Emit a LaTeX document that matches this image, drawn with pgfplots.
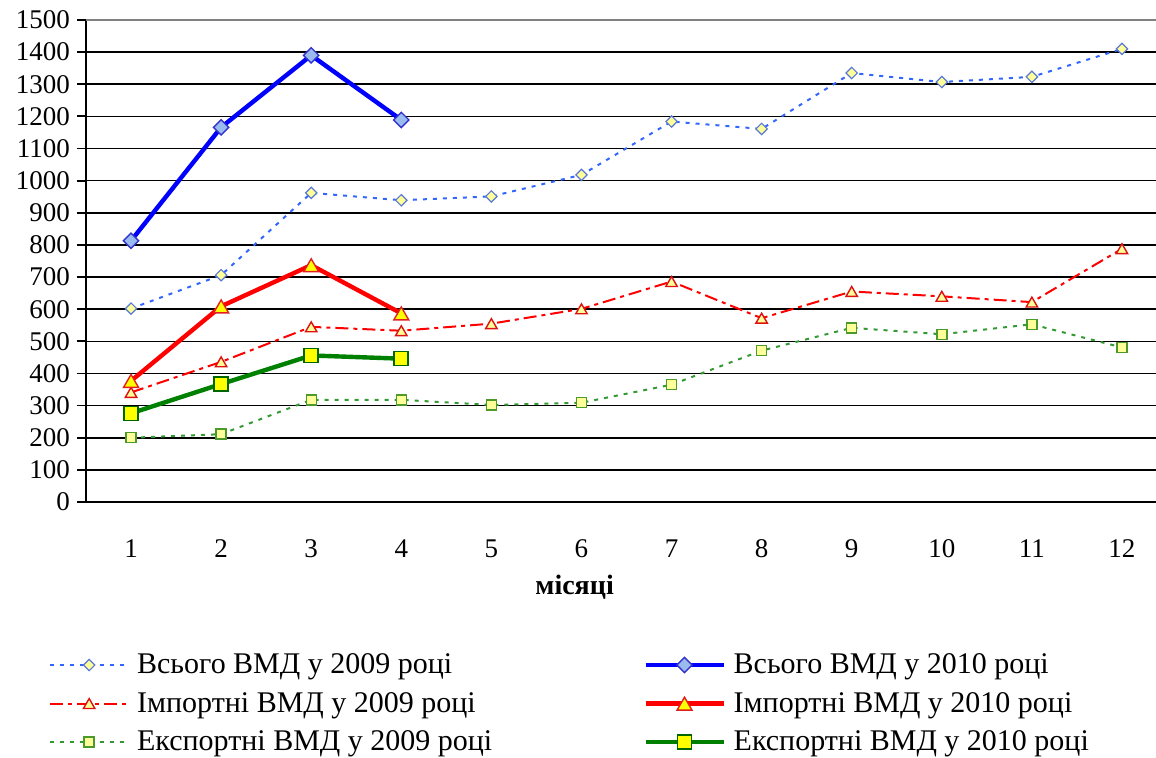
\documentclass[border=0pt]{standalone}
\usepackage{fontspec}
\setmainfont{Liberation Serif}
\usepackage{pgfplots}
\usepackage{pgfplotstable}
\pgfplotsset{compat=1.18}

\definecolor{blueA}{HTML}{3366FF}
\definecolor{blueAm}{HTML}{5A78D8}
\definecolor{blueB}{HTML}{0000FF}
\definecolor{blueBfill}{HTML}{99BBEE}
\definecolor{blueBm}{HTML}{3333CC}
\definecolor{redA}{HTML}{FF0000}
\definecolor{redAm}{HTML}{DD1111}
\definecolor{redBm}{HTML}{E02020}
\definecolor{greenA}{HTML}{339933}
\definecolor{greenAm}{HTML}{4C9A2A}
\definecolor{greenB}{HTML}{008000}
\definecolor{greenBm}{HTML}{006600}
\definecolor{paleyellow}{HTML}{FFFF99}
\definecolor{brightyellow}{HTML}{FFFF00}
\definecolor{bordergray}{HTML}{808080}

% monthly values, 2009 (12 months) and 2010 (4 months)
\pgfplotstableread{
m total imp exp
1  602  341 200
2  706  436 211
3  962  545 318
4  939  533 318
5  951  555 302
6  1018 601 309
7  1184 686 365
8  1161 572 471
9  1335 655 542
10 1307 640 522
11 1323 622 553
12 1410 788 481
}\yearA
\pgfplotstableread{
m total imp exp
1  813  377 276
2  1166 609 367
3  1390 737 456
4  1189 587 446
}\yearB

\begin{document}
\begin{tikzpicture}
\useasboundingbox (-43pt,-128pt) rectangle (535pt,251pt);
\begin{axis}[
  at={(0pt,0pt)}, anchor=south west,
  scale only axis, width=540.5pt, height=241pt,
  xmin=0.5, xmax=12.5, ymin=0, ymax=1500,
  axis x line*=bottom, axis y line*=left,
  axis line style={black, line width=0.9pt, -},
  tick align=outside,
  xtick={1,...,12},
  xtick style={draw=none},
  minor xtick={0.5,1.5,...,12.5},
  minor x tick style={black, line width=0.9pt},
  minor tick length=4pt,
  ytick={0,100,...,1400},
  extra y ticks={1500},
  extra y tick style={grid=none},
  y tick style={black, line width=0.9pt},
  major tick length=4.5pt,
  ymajorgrids,
  major grid style={black, line width=0.8pt},
  /pgf/number format/assume math mode=true,
  /pgf/number format/1000 sep={},
  ticklabel style={font=\fontsize{13.5}{16}\selectfont},
  yticklabel style={anchor=east, xshift=0pt},
  xticklabel style={anchor=base, yshift=-23.5pt},
  xlabel={\textbf{місяці}},
  xlabel style={font=\fontsize{14}{16}\selectfont, at={(axis description cs:0.452,0)}, anchor=center, yshift=-42.5pt},
  legend columns=2,
  legend cell align=left,
  legend style={draw=none, fill=none, at={(axis description cs:-0.04,-0.297)}, anchor=north west,
    font=\fontsize{15}{17}\selectfont, row sep=3.8pt,
    /tikz/every odd column/.append style={column sep=2pt},
    /tikz/every even column/.append style={column sep=73.5pt}},
  legend image code/.code={\draw[mark repeat=2,mark phase=2,#1] plot coordinates {(0pt,0pt) (19.5pt,0pt) (39pt,0pt)};},
]
% total, 2009 / 2010
\addplot[blueA, line width=1pt, dash pattern=on 2pt off 3pt,
  mark=square*, mark size=2pt,
  mark options={solid, rotate=45, fill=paleyellow, draw=blueAm, line width=0.6pt}]
  table[x=m, y=total] {\yearA};
\addlegendentry{Всього ВМД у 2009 році}
\addplot[blueB, line width=2.2pt,
  mark=square*, mark size=2.7pt,
  mark options={solid, rotate=45, fill=blueBfill, draw=blueBm, line width=0.7pt}]
  table[x=m, y=total] {\yearB};
\addlegendentry{Всього ВМД у 2010 році}
% imports, 2009 / 2010
\addplot[redA, line width=1pt, dash pattern=on 6.5pt off 2.5pt on 2pt off 2.5pt,
  mark=triangle*, mark size=3.3pt,
  mark options={solid, yshift=-0.8pt, fill=paleyellow, draw=redAm, line width=0.7pt}]
  table[x=m, y=imp] {\yearA};
\addlegendentry{Імпортні ВМД у 2009 році}
\addplot[redA, line width=2.2pt,
  mark=triangle*, mark size=4.3pt,
  mark options={solid, yshift=-1.1pt, fill=brightyellow, draw=redBm, line width=0.7pt}]
  table[x=m, y=imp] {\yearB};
\addlegendentry{Імпортні ВМД у 2010 році}
% exports, 2009 / 2010
\addplot[greenA, line width=1pt, dash pattern=on 2pt off 3pt,
  mark=square*, mark size=2.5pt,
  mark options={solid, fill=paleyellow, draw=greenAm, line width=0.7pt}]
  table[x=m, y=exp] {\yearA};
\addlegendentry{Експортні ВМД у 2009 році}
\addplot[greenB, line width=2.2pt,
  mark=square*, mark size=3.5pt,
  mark options={solid, fill=brightyellow, draw=greenBm, line width=0.8pt}]
  table[x=m, y=exp] {\yearB};
\addlegendentry{Експортні ВМД у 2010 році}
% plot-area frame along the top
\draw[bordergray, line width=1pt] (rel axis cs:0,1) -- (rel axis cs:1,1);
\end{axis}
\end{tikzpicture}
\end{document}
